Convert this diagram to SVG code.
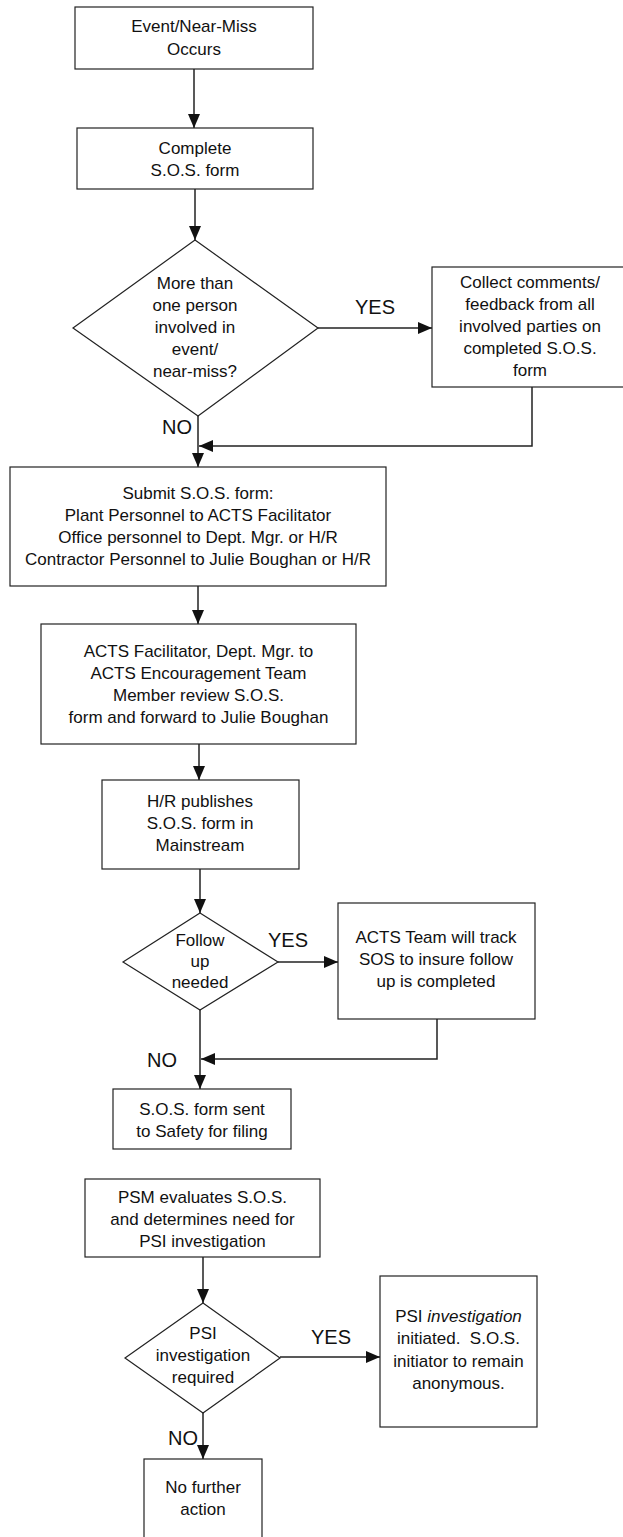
<svg xmlns="http://www.w3.org/2000/svg" width="623" height="1537" viewBox="0 0 623 1537">
<style>
  .box { fill: #fff; stroke: #222; stroke-width: 1.2; }
  .t { font-family: "Liberation Sans", Arial, sans-serif; font-size: 17px; fill: #111; text-anchor: middle; }
  .lbl { font-family: "Liberation Sans", Arial, sans-serif; font-size: 20px; fill: #111; text-anchor: middle; }
  .c { fill: none; stroke: #222; stroke-width: 1.5; }
</style>
<defs>
  <marker id="arr" viewBox="0 0 14 12" refX="14" refY="6" markerWidth="14" markerHeight="12" markerUnits="userSpaceOnUse" orient="auto">
    <path d="M0,0 L14,6 L0,12 Z" fill="#111"/>
  </marker>
</defs>
<rect width="623" height="1537" fill="#fff"/>

<g id="connectors">
  <path class="c" d="M194,69 V128" marker-end="url(#arr)"/>
  <path class="c" d="M195,189 V240" marker-end="url(#arr)"/>
  <path class="c" d="M318,328 H432" marker-end="url(#arr)"/>
  <path class="c" d="M198,416 V467" marker-end="url(#arr)"/>
  <path class="c" d="M532,387 V446 H199" marker-end="url(#arr)"/>
  <path class="c" d="M198,586 V624" marker-end="url(#arr)"/>
  <path class="c" d="M199,744 V780" marker-end="url(#arr)"/>
  <path class="c" d="M200,869 V913" marker-end="url(#arr)"/>
  <path class="c" d="M278,962 H338" marker-end="url(#arr)"/>
  <path class="c" d="M200,1010 V1089" marker-end="url(#arr)"/>
  <path class="c" d="M437,1019 V1059 H201" marker-end="url(#arr)"/>
  <path class="c" d="M203,1257 V1303" marker-end="url(#arr)"/>
  <path class="c" d="M280,1357 H380" marker-end="url(#arr)"/>
  <path class="c" d="M203,1413 V1459" marker-end="url(#arr)"/>
</g>

<g id="event">
  <rect class="box" x="75" y="7" width="238" height="62"/>
  <text class="t" x="194" y="32">Event/Near-Miss</text>
  <text class="t" x="194" y="55">Occurs</text>
</g>

<g id="complete">
  <rect class="box" x="77" y="128" width="236" height="61"/>
  <text class="t" x="195" y="154">Complete</text>
  <text class="t" x="195" y="176">S.O.S. form</text>
</g>

<g id="decision-more">
  <polygon class="box" points="195,240 318,328 198,416 73,328"/>
  <text class="t" x="195" y="289">More than</text>
  <text class="t" x="195" y="311">one person</text>
  <text class="t" x="195" y="333">involved in</text>
  <text class="t" x="195" y="355">event/</text>
  <text class="t" x="195" y="377">near-miss?</text>
</g>
<text class="lbl" x="375" y="314">YES</text>
<text class="lbl" x="177" y="434">NO</text>

<g id="collect">
  <rect class="box" x="432" y="267" width="196" height="120"/>
  <text class="t" x="530" y="288">Collect comments/</text>
  <text class="t" x="530" y="310">feedback from all</text>
  <text class="t" x="530" y="332">involved parties on</text>
  <text class="t" x="530" y="354">completed S.O.S.</text>
  <text class="t" x="530" y="376">form</text>
</g>

<g id="submit">
  <rect class="box" x="10" y="467" width="376" height="119"/>
  <text class="t" x="198" y="499">Submit S.O.S. form:</text>
  <text class="t" x="198" y="521">Plant Personnel to ACTS Facilitator</text>
  <text class="t" x="198" y="543">Office personnel to Dept. Mgr. or H/R</text>
  <text class="t" x="198" y="565">Contractor Personnel to Julie Boughan or H/R</text>
</g>

<g id="review">
  <rect class="box" x="41" y="624" width="315" height="120"/>
  <text class="t" x="198.5" y="657">ACTS Facilitator, Dept. Mgr. to</text>
  <text class="t" x="198.5" y="679">ACTS Encouragement Team</text>
  <text class="t" x="198.5" y="701">Member review S.O.S.</text>
  <text class="t" x="198.5" y="723">form and forward to Julie Boughan</text>
</g>

<g id="publish">
  <rect class="box" x="102" y="780" width="197" height="89"/>
  <text class="t" x="200" y="807">H/R publishes</text>
  <text class="t" x="200" y="829">S.O.S. form in</text>
  <text class="t" x="200" y="851">Mainstream</text>
</g>

<g id="decision-follow">
  <polygon class="box" points="200,913 278,962 200,1010 123,962"/>
  <text class="t" x="200" y="946">Follow</text>
  <text class="t" x="200" y="967">up</text>
  <text class="t" x="200" y="988">needed</text>
</g>
<text class="lbl" x="288" y="947">YES</text>
<text class="lbl" x="162" y="1067">NO</text>

<g id="track">
  <rect class="box" x="338" y="903" width="197" height="116"/>
  <text class="t" x="436" y="943">ACTS Team will track</text>
  <text class="t" x="436" y="965">SOS to insure follow</text>
  <text class="t" x="436" y="987">up is completed</text>
</g>

<g id="filing">
  <rect class="box" x="113" y="1089" width="178" height="60"/>
  <text class="t" x="202" y="1115">S.O.S. form sent</text>
  <text class="t" x="202" y="1137">to Safety for filing</text>
</g>

<g id="psm">
  <rect class="box" x="85" y="1179" width="235" height="78"/>
  <text class="t" x="202.5" y="1203">PSM evaluates S.O.S.</text>
  <text class="t" x="202.5" y="1225">and determines need for</text>
  <text class="t" x="202.5" y="1247">PSI investigation</text>
</g>

<g id="decision-psi">
  <polygon class="box" points="203,1303 280,1358 203,1413 125,1358"/>
  <text class="t" x="203" y="1339">PSI</text>
  <text class="t" x="203" y="1361">investigation</text>
  <text class="t" x="203" y="1383">required</text>
</g>
<text class="lbl" x="331" y="1344">YES</text>
<text class="lbl" x="183" y="1445">NO</text>

<g id="psi-initiated">
  <rect class="box" x="380" y="1276" width="157" height="151"/>
  <text class="t" x="458.5" y="1322">PSI <tspan font-style="italic">investigation</tspan></text>
  <text class="t" x="458.5" y="1344" xml:space="preserve">initiated.  S.O.S.</text>
  <text class="t" x="458.5" y="1367">initiator to remain</text>
  <text class="t" x="458.5" y="1389">anonymous.</text>
</g>

<g id="no-action">
  <rect class="box" x="144" y="1459" width="118" height="90"/>
  <text class="t" x="203" y="1493">No further</text>
  <text class="t" x="203" y="1515">action</text>
</g>
</svg>
